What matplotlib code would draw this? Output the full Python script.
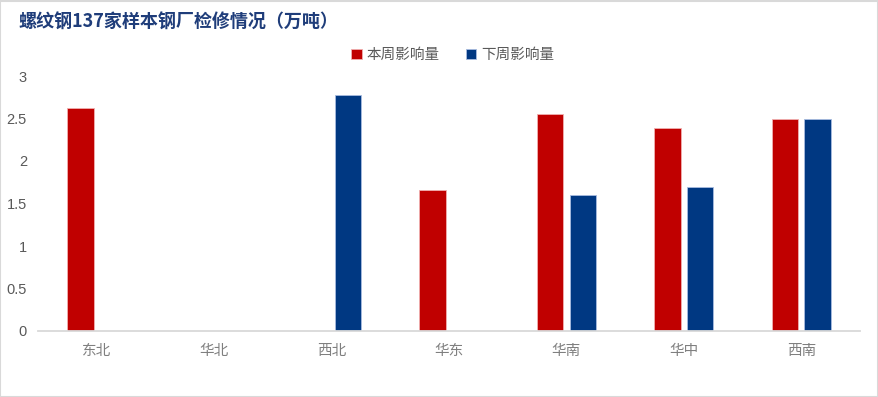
import matplotlib
matplotlib.use("Agg")
import matplotlib.pyplot as plt
import numpy as np
from matplotlib.patches import Rectangle

plt.rcParams['font.family'] = ['Noto Sans CJK SC', 'DejaVu Sans']

title = "螺纹钢137家样本钢厂检修情况（万吨）"
regions = ["东北", "华北", "西北", "华东", "华南", "华中", "西南"]
this_week = [2.62, 0, 0, 1.66, 2.55, 2.39, 2.50]
next_week = [0, 0, 2.78, 0, 1.60, 1.69, 2.50]
series_names = ["本周影响量", "下周影响量"]
yticks = [0, 0.5, 1, 1.5, 2, 2.5, 3]
ytick_labels = ["0", "0.5", "1", "1.5", "2", "2.5", "3"]

RED = "#C00000"
BLUE = "#003882"
GRAY_TEXT = "#595959"

W, H = 879, 397
fig = plt.figure(figsize=(W / 100, H / 100), dpi=100)
ax = fig.add_axes([38 / W, 1 - 331 / H, (860 - 38) / W, (331 - 76) / H])

x = np.arange(len(regions))
bw = 0.225
off = 0.139
ax.bar(x - off, this_week, bw, color=RED, edgecolor="#F0B0B0", linewidth=0.6,
       label=series_names[0])
ax.bar(x + off, next_week, bw, color=BLUE, edgecolor="#A8BCE0", linewidth=0.6,
       label=series_names[1])

ax.set_xlim(-0.5, len(regions) - 0.5)
ax.set_ylim(0, 3)
ax.set_yticks(yticks)
ax.set_yticklabels(ytick_labels, fontsize=10.5, color=GRAY_TEXT,
                   family=['Liberation Sans', 'DejaVu Sans'])
ax.set_xticks(x)
ax.set_xticklabels(regions, fontsize=10.5, color="#7F7F7F")
ax.tick_params(axis='both', length=0)
ax.tick_params(axis='y', pad=8)
ax.tick_params(axis='x', pad=9)
for s in ["top", "right", "left"]:
    ax.spines[s].set_visible(False)
ax.spines["bottom"].set_color("#D9D9D9")
ax.spines["bottom"].set_linewidth(1.3)

fig.text(18 / W, 1 - 22 / H, title, fontsize=13, fontweight="bold",
         color="#1F3D7A", va="center", ha="left")

leg = fig.legend(loc="center", bbox_to_anchor=(453 / W, 1 - 55 / H), ncol=2,
                 frameon=False, fontsize=10.5, handlelength=0.7, handleheight=0.7,
                 handletextpad=0.35, columnspacing=1.8)
for t in leg.get_texts():
    t.set_color(GRAY_TEXT)

fig.patches.append(Rectangle((0.5 / W, 0.5 / H), 1 - 1.5 / W, 1 - 1.5 / H,
                             transform=fig.transFigure, fill=False,
                             edgecolor="#D9D9D9", linewidth=1.5))

fig.savefig("out.png", dpi=100)
